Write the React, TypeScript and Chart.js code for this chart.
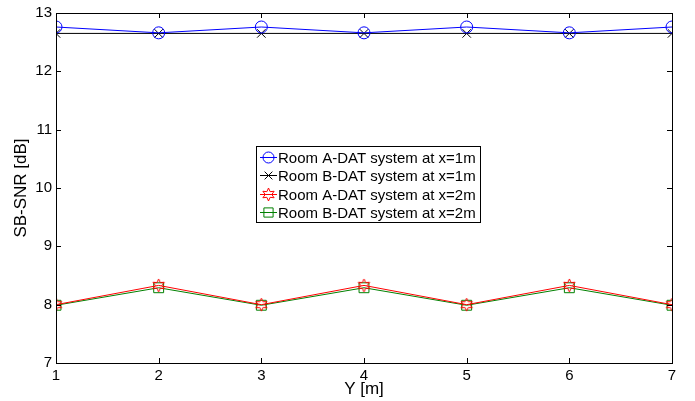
import React, { useEffect, useRef } from "react";
import { Chart, registerables } from "chart.js";

Chart.register(...registerables);

const xValues = [1, 2, 3, 4, 5, 6, 7];
const roomA1 = [12.76, 12.66, 12.76, 12.66, 12.76, 12.66, 12.76];
const roomB1 = [12.65, 12.65, 12.65, 12.65, 12.65, 12.65, 12.65];
const roomA2 = [8.0, 8.33, 8.0, 8.33, 8.0, 8.33, 8.0];
const roomB2 = [7.99, 8.29, 7.99, 8.29, 7.99, 8.29, 7.99];
const seriesLabels = [
  "Room A-DAT system at x=1m",
  "Room B-DAT system at x=1m",
  "Room A-DAT system at x=2m",
  "Room B-DAT system at x=2m",
];
const xTicks = [1, 2, 3, 4, 5, 6, 7];
const yTicks = [7, 8, 9, 10, 11, 12, 13];

const FONT = "'Liberation Sans', Arial, Helvetica, sans-serif";

function makeHexagram(color: string, r: number): HTMLCanvasElement {
  const size = Math.ceil(r * 2 + 4);
  const c = document.createElement("canvas");
  c.width = size;
  c.height = size;
  const ctx = c.getContext("2d")!;
  const cx = size / 2;
  const cy = size / 2;
  ctx.strokeStyle = color;
  ctx.lineWidth = 1;
  ctx.beginPath();
  for (let i = 0; i < 12; i++) {
    const ang = -Math.PI / 2 + (i * Math.PI) / 6;
    const rr = i % 2 === 0 ? r : r * 0.5;
    const px = cx + rr * Math.cos(ang);
    const py = cy + rr * Math.sin(ang);
    if (i === 0) ctx.moveTo(px, py);
    else ctx.lineTo(px, py);
  }
  ctx.closePath();
  ctx.stroke();
  return c;
}

function drawMarker(ctx: CanvasRenderingContext2D, st: any, r: number, x: number, y: number, color: string) {
  ctx.strokeStyle = color;
  ctx.lineWidth = 1;
  ctx.beginPath();
  if (st === "circle") {
    ctx.arc(x, y, r, 0, Math.PI * 2);
  } else if (st === "crossRot") {
    const d = r * Math.SQRT1_2;
    ctx.moveTo(x - d, y - d);
    ctx.lineTo(x + d, y + d);
    ctx.moveTo(x - d, y + d);
    ctx.lineTo(x + d, y - d);
  } else if (st === "rect") {
    const d = r * Math.SQRT1_2;
    ctx.rect(x - d, y - d, 2 * d, 2 * d);
  } else if (st instanceof HTMLCanvasElement) {
    ctx.drawImage(st, Math.round(x - st.width / 2), Math.round(y - st.height / 2));
    return;
  }
  ctx.stroke();
}

export default function App() {
  const ref = useRef<HTMLCanvasElement | null>(null);

  useEffect(() => {
    document.body.style.margin = "0";
    const canvas = ref.current!;
    const hex = makeHexagram("#ff0000", 6.5);

    const colors = ["#0000ff", "#000000", "#ff0000", "#008000"];
    const styles: any[] = ["circle", "crossRot", hex, "rect"];
    const radii = [6, 6, 6, 7];
    const dataArr = [roomA1, roomB1, roomA2, roomB2];

    const frame = {
      id: "frame",
      afterDatasetsDraw(chart: any) {
        const { ctx, chartArea: a, scales } = chart;
        ctx.save();
        ctx.strokeStyle = "#000";
        ctx.lineWidth = 1;
        ctx.strokeRect(Math.round(a.left) + 0.5, Math.round(a.top) + 0.5, Math.round(a.right - a.left), Math.round(a.bottom - a.top));
        const tl = 5;
        ctx.beginPath();
        for (const t of xTicks) {
          const x = Math.round(scales.x.getPixelForValue(t)) + 0.5;
          ctx.moveTo(x, a.bottom);
          ctx.lineTo(x, a.bottom - tl);
          ctx.moveTo(x, a.top);
          ctx.lineTo(x, a.top + tl);
        }
        for (const t of yTicks) {
          const y = Math.round(scales.y.getPixelForValue(t)) + 0.5;
          ctx.moveTo(a.left, y);
          ctx.lineTo(a.left + tl, y);
          ctx.moveTo(a.right, y);
          ctx.lineTo(a.right - tl, y);
        }
        ctx.stroke();

        // legend
        const bx = 256.5, by = 146.5, bw = 224, bh = 76;
        ctx.fillStyle = "#fff";
        ctx.fillRect(bx, by, bw, bh);
        ctx.strokeStyle = "#000";
        ctx.strokeRect(bx, by, bw, bh);
        ctx.font = `15px ${FONT}`;
        ctx.textBaseline = "middle";
        ctx.textAlign = "left";
        for (let i = 0; i < 4; i++) {
          const y = Math.round(157 + i * 18.3) + 0.5;
          ctx.strokeStyle = colors[i];
          ctx.beginPath();
          ctx.moveTo(260, y);
          ctx.lineTo(277, y);
          ctx.stroke();
          drawMarker(ctx, styles[i], radii[i] - 0.5, 268.5, y, colors[i]);
          ctx.fillStyle = "#000";
          ctx.fillText(seriesLabels[i], 278, y + 1);
        }
        ctx.restore();
      },
    };

    const chart = new Chart(canvas, {
      type: "line",
      data: {
        datasets: dataArr.map((d, i) => ({
          label: seriesLabels[i],
          data: xValues.map((x, j) => ({ x, y: d[j] })),
          borderColor: colors[i],
          backgroundColor: "transparent",
          borderWidth: 1,
          pointStyle: styles[i],
          pointRadius: radii[i],
          pointBorderColor: colors[i],
          pointBackgroundColor: "transparent",
          pointBorderWidth: 1,
          tension: 0,
        })),
      },
      options: {
        animation: false,
        responsive: false,
        events: [],
        layout: { padding: { top: 13, right: 23, left: 0, bottom: 0 } },
        plugins: { legend: { display: false }, tooltip: { enabled: false } },
        scales: {
          x: {
            type: "linear",
            min: 1,
            max: 7,
            grid: { display: false, drawTicks: false },
            border: { display: false },
            ticks: { stepSize: 1, color: "#000", font: { family: FONT, size: 15 }, padding: 4, maxRotation: 0 },
            title: { display: true, text: "Y [m]", color: "#000", font: { family: FONT, size: 17 }, padding: { top: 0, bottom: 1 } },
            afterFit(s: any) { s.height = 38; },
          },
          y: {
            type: "linear",
            min: 7,
            max: 13,
            grid: { display: false, drawTicks: false },
            border: { display: false },
            ticks: { stepSize: 1, color: "#000", font: { family: FONT, size: 15 }, padding: 4 },
            title: { display: true, text: "SB-SNR [dB]", color: "#000", font: { family: FONT, size: 17 }, padding: { top: 11, bottom: 0 } },
            afterFit(s: any) { s.width = 56; },
          },
        },
      } as any,
      plugins: [frame],
    });
    return () => chart.destroy();
  }, []);

  return (
    <div style={{ position: "fixed", left: 0, top: 0, width: 695, height: 401, background: "#fff" }}>
      <canvas ref={ref} width={695} height={401} style={{ width: 695, height: 401, display: "block" }} />
    </div>
  );
}
